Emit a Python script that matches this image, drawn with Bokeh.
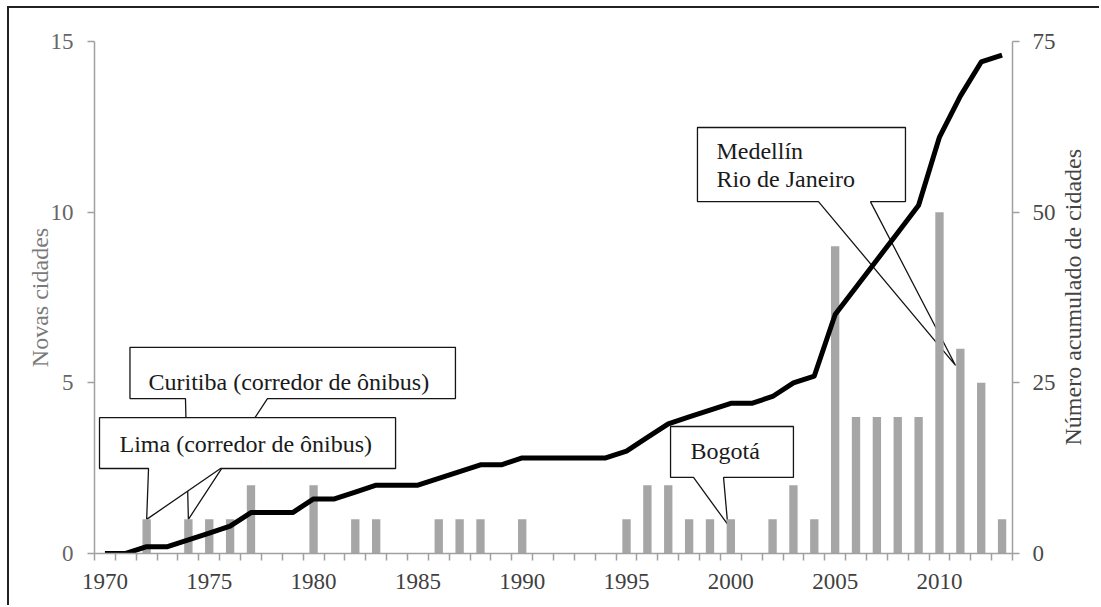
import math
from bokeh.plotting import figure
from bokeh.models import Range1d, LinearAxis, FixedTicker, ColumnDataSource, Label
from bokeh.embed import file_html
from bokeh.resources import INLINE

# ---------------- data ----------------
years = list(range(1970, 2014))
new_cities = [0, 0, 1, 0, 1, 1, 1, 2, 0, 0,
              2, 0, 1, 1, 0, 0, 1, 1, 1, 0,
              1, 0, 0, 0, 0, 1, 2, 2, 1, 1,
              1, 0, 1, 2, 1, 9, 4, 4, 4, 4,
              10, 6, 5, 1]
cumulative = [0, 0, 1, 1, 2, 3, 4, 6, 6, 6,
              8, 8, 9, 10, 10, 10, 11, 12, 13, 13,
              14, 14, 14, 14, 14, 15, 17, 19, 20, 21,
              22, 22, 23, 25, 26, 35, 39, 43, 47, 51,
              61, 67, 72, 73]
x_tick_labels = [1970, 1975, 1980, 1985, 1990, 1995, 2000, 2005, 2010]
left_ticks = [0, 5, 10, 15]
right_ticks = [0, 25, 50, 75]
left_label = "Novas cidades"
right_label = "Número acumulado de cidades"

# callouts: text lines, box (x0, x1, y0, y1), tail base (b0, b1), tip (tx, ty), text anchor (x, first baseline y)
callouts = [
    (["Curitiba (corredor de ônibus)"], (1971.2, 1986.8, 4.54, 6.04), (1973.86, 1977.79), (1974.0, 1.0), (1972.09, 5.03)),
    (["Lima (corredor de ônibus)"], (1969.74, 1983.93, 2.49, 3.98), (1972.09, 1975.54), (1972.0, 1.0), (1970.70, 3.20)),
    (["Bogotá"], (1997.11, 2003.0, 2.23, 3.72), (1998.21, 1999.65), (1999.85, 0.85), (1998.07, 3.01)),
    (["Medellín", "Rio de Janeiro"], (1998.40, 2008.37, 10.31, 12.48), (2004.20, 2006.69), (2010.77, 5.51), (1999.31, 11.80)),
]

FONT = "Liberation Serif"
AXIS_GRAY = "#a0a0a0"

p = figure(width=1092, height=599,
           x_range=Range1d(1969.5, 2013.5), y_range=Range1d(0, 15),
           output_backend="svg", toolbar_location=None,
           min_border_left=85, min_border_right=89,
           min_border_top=33, min_border_bottom=54)
p.xgrid.visible = False
p.ygrid.visible = False
p.outline_line_color = None
p.background_fill_color = "white"
p.border_fill_color = "white"
# page frame: only its top and left edges are visible in the original
p.styles = {"margin-left": "7px", "margin-top": "6px",
            "border-top": "2px solid #222222", "border-left": "2px solid #222222"}

# x axis
xa = p.xaxis[0]
xa.ticker = FixedTicker(ticks=x_tick_labels, minor_ticks=[y - 0.5 for y in years] + [years[-1] + 0.5])
xa.major_tick_out = 0
xa.major_tick_in = 0
xa.minor_tick_out = 7
xa.minor_tick_in = 0
xa.minor_tick_line_color = AXIS_GRAY
xa.minor_tick_line_width = 1.5
xa.axis_line_color = AXIS_GRAY
xa.axis_line_width = 1.5
xa.major_label_text_font = FONT
xa.major_label_text_font_size = "23px"
xa.major_label_text_color = "#404040"
xa.major_label_standoff = 13

# left axis
ya = p.yaxis[0]
ya.ticker = FixedTicker(ticks=left_ticks)
ya.major_tick_out = 7
ya.major_tick_in = 0
ya.minor_tick_out = 0
ya.minor_tick_in = 0
ya.major_tick_line_color = AXIS_GRAY
ya.major_tick_line_width = 1.5
ya.axis_line_color = AXIS_GRAY
ya.axis_line_width = 1.5
ya.major_label_text_font = FONT
ya.major_label_text_font_size = "23px"
ya.major_label_text_color = "#666666"
ya.major_label_standoff = 14
ya.axis_label = left_label
ya.axis_label_text_font = FONT
ya.axis_label_text_font_size = "24px"
ya.axis_label_text_font_style = "normal"
ya.axis_label_text_color = "#7a7a7a"
ya.axis_label_standoff = -5

# right axis
p.extra_y_ranges = {"cum": Range1d(0, 75)}
ra = LinearAxis(y_range_name="cum", ticker=FixedTicker(ticks=right_ticks))
ra.major_tick_out = 7
ra.major_tick_in = 0
ra.minor_tick_out = 0
ra.minor_tick_in = 0
ra.major_tick_line_color = AXIS_GRAY
ra.major_tick_line_width = 1.5
ra.axis_line_color = AXIS_GRAY
ra.axis_line_width = 1.5
ra.major_label_text_font = FONT
ra.major_label_text_font_size = "23px"
ra.major_label_text_color = "#4a4a4a"
ra.major_label_standoff = 13
ra.axis_label_text_font = FONT
ra.axis_label_text_font_size = "24px"
ra.axis_label_text_font_style = "normal"
ra.axis_label_text_color = "#444444"
ra.axis_label_standoff = 14
try:
    # read bottom to top, as in the original; the rotated title starts at the
    # axis' lower end, so it is led by non-breaking spaces to sit centred
    ra.axis_label_orientation = math.pi / 2
    ra.axis_label_align = "start"
    ra.axis_label = "\u00a0" * 18 + right_label
except (AttributeError, ValueError):
    ra.axis_label = right_label
p.add_layout(ra, "right")

# callouts (behind data)
for lines, (x0, x1, y0, y1), (b0, b1), (tx, ty), (lx, ly) in callouts:
    xs = [x0, x1, x1, b1, tx, b0, x0]
    ys = [y1, y1, y0, y0, ty, y0, y0]
    p.patch(xs, ys, fill_color="white", line_color="#151515", line_width=1.3)
    for i, t in enumerate(lines):
        p.add_layout(Label(x=lx, y=ly - i * 0.82, text=t, text_font=FONT,
                           text_font_size="24px", text_color="#1a1a1a",
                           text_baseline="alphabetic", text_align="left"))

src = ColumnDataSource(dict(year=years, new=new_cities, cum=cumulative))
p.vbar(x="year", top="new", bottom=0, width=0.4, source=src,
       fill_color="#a6a6a6", line_color=None)
p.line(x="year", y="cum", source=src, y_range_name="cum",
       line_color="black", line_width=5, line_join="round")

open("out.html", "w").write(file_html(p, INLINE))
